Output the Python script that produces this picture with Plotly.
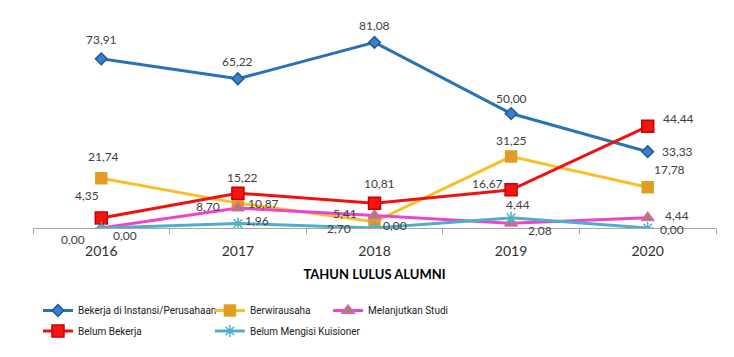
import plotly.graph_objects as go

years = ["2016", "2017", "2018", "2019", "2020"]
bekerja = [73.91, 65.22, 81.08, 50.00, 33.33]
berwirausaha = [21.74, 10.87, 2.70, 31.25, 17.78]
melanjutkan = [0.00, 8.70, 5.41, 2.08, 4.44]
belum_bekerja = [4.35, 15.22, 10.81, 16.67, 44.44]
belum_mengisi = [0.00, 1.96, 0.00, 4.44, 0.00]

names = ["Bekerja di Instansi/Perusahaan", "Berwirausaha", "Melanjutkan Studi",
         "Belum Bekerja", "Belum Mengisi Kuisioner"]
series = [bekerja, berwirausaha, melanjutkan, belum_bekerja, belum_mengisi]

styles = [
    dict(line="#2A72B8", fill="#3B7FC9", edge="#1F5A94", symbol="diamond", size=9),
    dict(line="#F7C02A", fill="#E39A28", edge="#D9A520", symbol="square", size=11),
    dict(line="#EE44CC", fill="#9A8A58", edge="#E060C0", symbol="triangle-up", size=11),
    dict(line="#F20F0F", fill="#F41414", edge="#C80000", symbol="square", size=12),
    dict(line="#4FAFCB", fill="#4FAFCB", edge="#4FAFCB", symbol="asterisk-open", size=10),
]

# label offsets (px): (xshift, yshift)
offsets = [
    [(0, 19), (0, 17), (0, 17), (0, 15), (30, 0)],
    [(2, 22), (26, 0), (-36, -7), (0, 16), (22, 18)],
    [(24, -7), (-30, 2), (-30, 2), (29, -7), (29, 2)],
    [(-14, 23), (5, 16), (5, 20), (-24, 6), (31, 8)],
    [(-28, -11), (19, 3), (20, 3), (7, 13), (24, -1)],
]

# legend placement (paper coords): one legend per series
legend_pos = [(0.0073, -0.33), (0.259, -0.33), (0.432, -0.33),
              (0.0073, -0.43), (0.259, -0.43)]
legend_ids = ["legend", "legend2", "legend3", "legend4", "legend5"]

LBL = "Lato, 'Open Sans', sans-serif"
fig = go.Figure()
for i, (nm, vals, st) in enumerate(zip(names, series, styles)):
    fig.add_trace(go.Scatter(
        x=years, y=vals, name=nm, mode="lines+markers",
        line=dict(color=st["line"], width=3),
        marker=dict(symbol=st["symbol"], size=st["size"], color=st["fill"],
                    line=dict(color=st["edge"], width=1.5)),
        legend=legend_ids[i],
    ))

annotations = []
for vals, offs in zip(series, offsets):
    for xi, (v, (dx, dy)) in enumerate(zip(vals, offs)):
        annotations.append(dict(
            x=xi, y=v, xref="x", yref="y", text=f"{v:.2f}".replace(".", ","),
            showarrow=False, xshift=dx, yshift=dy,
            font=dict(family=LBL, size=12, color="#404040")))

legends = {}
for lid, (lx, ly) in zip(legend_ids, legend_pos):
    legends[lid] = dict(orientation="v", x=lx, y=ly, xanchor="left", yanchor="top",
                        itemwidth=30,
                        font=dict(family="Roboto, sans-serif", size=10, color="#202020"),
                        bgcolor="rgba(0,0,0,0)")

fig.update_layout(
    width=734, height=357,
    margin=dict(l=33, r=18, t=22, b=125),
    paper_bgcolor="white", plot_bgcolor="white",
    showlegend=True,
    annotations=annotations,
    xaxis=dict(type="category", range=[-0.5, 4.5], showgrid=False,
               showline=True, linecolor="#A6A6A6", linewidth=1,
               ticks="outside", tickson="boundaries", ticklen=5, tickcolor="#A6A6A6",
               ticklabelstandoff=10,
               tickfont=dict(family=LBL, size=14, color="#303030"),
               title=dict(text="<b>TAHUN LULUS ALUMNI</b>", standoff=12,
                          font=dict(family=LBL, size=13, color="#000000"))),
    yaxis=dict(range=[0, 90], visible=False, showgrid=False, zeroline=False),
    **legends,
)

fig.write_html("out.html")
